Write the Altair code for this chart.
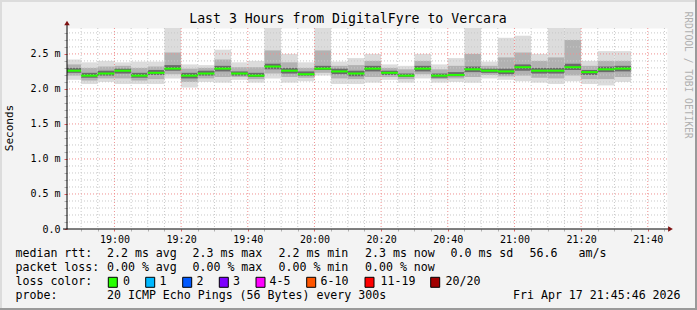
import altair as alt
import pandas as pd

# ---------------- data ----------------
starts = ["18:45", "18:50", "18:55", "19:00", "19:05", "19:10", "19:15", "19:20",
          "19:25", "19:30", "19:35", "19:40", "19:45", "19:50", "19:55", "20:00",
          "20:05", "20:10", "20:15", "20:20", "20:25", "20:30", "20:35", "20:40",
          "20:45", "20:50", "20:55", "21:00", "21:05", "21:10", "21:15", "21:20",
          "21:25", "21:30"]
median = [2.26, 2.19, 2.22, 2.26, 2.19, 2.23, 2.29, 2.19, 2.22, 2.29, 2.22, 2.19,
          2.32, 2.26, 2.21, 2.29, 2.25, 2.22, 2.29, 2.23, 2.19, 2.29, 2.19, 2.20,
          2.28, 2.26, 2.25, 2.31, 2.26, 2.26, 2.31, 2.24, 2.28, 2.29]
ping_max = [2.42, 2.38, 2.40, 2.38, 2.39, 2.39, 2.95, 2.35, 2.34, 2.56, 2.38, 2.40,
            2.95, 2.50, 2.38, 2.95, 2.39, 2.44, 2.50, 2.35, 2.33, 2.50, 2.35, 2.44,
            2.95, 2.39, 2.73, 2.76, 2.50, 2.95, 2.95, 2.40, 2.54, 2.54]
ping_min = [2.13, 2.07, 2.10, 2.07, 2.07, 2.07, 2.15, 2.02, 2.10, 2.09, 2.13, 2.09,
            2.15, 2.09, 2.11, 2.19, 2.07, 2.07, 2.09, 2.13, 2.09, 2.15, 2.09, 2.10,
            2.09, 2.15, 2.13, 2.11, 2.09, 2.07, 2.11, 2.07, 2.05, 2.10]
upper_mid = [2.35, 2.30, 2.32, 2.33, 2.30, 2.32, 2.52, 2.29, 2.30, 2.42, 2.31, 2.31,
             2.55, 2.38, 2.30, 2.55, 2.33, 2.34, 2.40, 2.30, 2.28, 2.40, 2.28, 2.33,
             2.50, 2.33, 2.45, 2.52, 2.40, 2.45, 2.70, 2.33, 2.40, 2.40]
lower_mid = [2.19, 2.12, 2.15, 2.15, 2.12, 2.14, 2.21, 2.10, 2.15, 2.17, 2.17, 2.14,
             2.22, 2.17, 2.16, 2.23, 2.15, 2.14, 2.17, 2.17, 2.14, 2.21, 2.14, 2.15,
             2.17, 2.20, 2.18, 2.19, 2.16, 2.15, 2.19, 2.14, 2.14, 2.17]
core_hi = [2.30, 2.23, 2.26, 2.29, 2.23, 2.27, 2.34, 2.23, 2.26, 2.33, 2.25, 2.23,
           2.36, 2.30, 2.25, 2.33, 2.29, 2.26, 2.33, 2.26, 2.22, 2.33, 2.22, 2.24,
           2.32, 2.29, 2.29, 2.35, 2.30, 2.30, 2.36, 2.27, 2.32, 2.33]
core_lo = [2.23, 2.16, 2.19, 2.22, 2.16, 2.20, 2.26, 2.15, 2.19, 2.25, 2.19, 2.17,
           2.28, 2.22, 2.19, 2.27, 2.21, 2.18, 2.25, 2.20, 2.17, 2.25, 2.16, 2.18,
           2.24, 2.23, 2.21, 2.26, 2.22, 2.22, 2.27, 2.20, 2.24, 2.25]

step_minutes = 5          # 300 s probe step
window_end = "21:45:46"
window_hours = 3
y_max = 2.87

title_text = "Last 3 Hours from DigitalFyre to Vercara"
y_title = "Seconds"
watermark = "RRDTOOL / TOBI OETIKER"
line1 = ["median rtt:", "2.2 ms avg", "2.3 ms max", "2.2 ms min", "2.3 ms now",
         "0.0 ms sd", "56.6", "am/s"]
line2 = ["packet loss:", "0.00 % avg", "0.00 % max", "0.00 % min", "0.00 % now"]
loss_title = "loss color:"
loss_labels = ["0", "1", "2", "3", "4-5", "6-10", "11-19", "20/20"]
loss_colors = ["#26ff00", "#00b8ff", "#0059ff", "#7e00ff", "#ff00ff", "#ff5500",
               "#ff0000", "#a10000"]
line4 = ["probe:", "20 ICMP Echo Pings (56 Bytes) every 300s", "Fri Apr 17 21:45:46 2026"]

# ---------------- layout (screen pixels) ----------------
OX, OY = 67, 28
W, H = 600, 201
MONO = "DejaVu Sans Mono"
line1_x = [15.5, 107, 192.5, 278.5, 365, 450.5, 529.5, 578.5]
line2_x = [15.5, 107, 192.5, 278.5, 365]
line4_x = [15.5, 107, 513]
loss_box_x = [108.3, 145.7, 182.7, 219.3, 256, 306.7, 365, 430.7]
loss_lab_x = [123, 159.5, 196.5, 233, 269.5, 320.5, 380.5, 445.5]
row_y = [254.3, 268.3, 282.3, 296.2]


def to_min(s):
    parts = [int(p) for p in s.split(":")]
    return parts[0] * 60 + parts[1] + (parts[2] / 60 if len(parts) > 2 else 0)


x_end = to_min(window_end)
x_start = x_end - window_hours * 60

df = pd.DataFrame({
    "t0": [to_min(s) for s in starts],
    "med": median, "hi": ping_max, "lo": ping_min,
    "hi2": upper_mid, "lo2": lower_mid, "chi": core_hi, "clo": core_lo,
})
df["t1"] = df["t0"] + step_minutes

MAJOR_RED = "#f09090"
MINOR_GRAY = "#c8c8c8"

x_ticks = list(range(int(x_start) + 5 - int(x_start) % 5, int(x_end) + 1, 5))
y_ticks = [round(i * 0.1, 1) for i in range(29)]

x_axis = alt.Axis(
    values=x_ticks,
    labelExpr="datum.value % 20 == 0 ? (floor(datum.value/60) + ':' + "
              "(datum.value % 60 < 10 ? '0' : '') + (datum.value % 60)) : ''",
    title=None, domain=False, grid=False,
    tickColor={"condition": {"test": "datum.value % 20 == 0", "value": "#e06060"},
               "value": "#b0b0b0"},
    tickSize=2, labelPadding=3, labelOverlap=False, labelFont=MONO, labelFontSize=10,
    labelColor="black",
)
y_axis = alt.Axis(
    values=y_ticks,
    labelExpr="round(datum.value*10) % 5 == 0 ? (datum.value == 0 ? '0.0\u00a0\u00a0' : "
              "format(datum.value, '.1f') + ' m') : ''",
    title=None, domain=False, grid=False,
    tickColor={"condition": {"test": "round(datum.value*10) % 5 == 0", "value": "#e06060"},
               "value": "#b0b0b0"},
    tickSize=3, labelPadding=4, labelOverlap=False, labelFont=MONO, labelFontSize=10,
    labelColor="black", labelBaseline="middle",
)

xs = alt.Scale(domain=[x_start, x_end], nice=False, zero=False)
ys = alt.Scale(domain=[0, y_max], nice=False, zero=True)

base = alt.Chart(df)


def band(lo, hi, color):
    return base.mark_rect(color=color, clip=True).encode(
        x=alt.X("t0:Q", scale=xs, axis=x_axis), x2="t1:Q",
        y=alt.Y(f"{lo}:Q", scale=ys, axis=y_axis), y2=f"{hi}:Q")


gx = pd.DataFrame({"v": x_ticks, "major": [v % 20 == 0 for v in x_ticks]})
gy = pd.DataFrame({"v": y_ticks[1:], "major": [round(v * 10) % 5 == 0 for v in y_ticks[1:]]})
grid_color = alt.Color("major:N", scale=alt.Scale(domain=[False, True],
                                                  range=[MINOR_GRAY, MAJOR_RED]), legend=None)

layers = [
    band("lo", "hi", "#dcdcdc"),
    band("lo2", "hi2", "#b2b2b2"),
    band("clo", "chi", "#6a6a6a"),
    alt.Chart(gx).mark_rule(strokeDash=[1, 2], strokeWidth=1).encode(
        x=alt.X("v:Q", scale=xs, axis=x_axis), color=grid_color),
    alt.Chart(gy).mark_rule(strokeDash=[1, 2], strokeWidth=1).encode(
        y=alt.Y("v:Q", scale=ys, axis=y_axis), color=grid_color),
    base.mark_rule(color="#26ff00", strokeWidth=2, clip=True).encode(
        x=alt.X("t0:Q", scale=xs, axis=x_axis), x2="t1:Q",
        y=alt.Y("med:Q", scale=ys, axis=y_axis)),
]


def one():
    return alt.Chart(pd.DataFrame({"t": [""]}))


def txt(s, sx, sy, size=11.6, align="left", angle=0, color="black"):
    return alt.Chart(pd.DataFrame({"t": [s]})).mark_text(
        font=MONO, fontSize=size, align=align, baseline="middle", angle=angle,
        color=color).encode(x=alt.value(sx - OX), y=alt.value(sy - OY), text="t:N")


def seg(x1, y1, x2, y2, color, width=1):
    return one().mark_rule(color=color, strokeWidth=width).encode(
        x=alt.value(x1 - OX), y=alt.value(y1 - OY),
        x2=alt.value(x2 - OX), y2=alt.value(y2 - OY))


# frame
layers += [
    seg(0, 1, 697, 1, "#dcdcdc", 2), seg(1, 0, 1, 310, "#dcdcdc", 2),
    seg(0, 309, 697, 309, "#9a9a9a", 2), seg(696, 0, 696, 310, "#9a9a9a", 2),
]
# axis lines and arrows
layers += [
    seg(OX, 24, OX, OY + H, "black"),
    seg(63, OY + H, 669, OY + H, "black"),
    one().mark_point(shape="triangle-up", filled=True, color="#7f1010", size=30, opacity=1).encode(
        x=alt.value(0), y=alt.value(23 - OY)),
    one().mark_point(shape="triangle-right", filled=True, color="#7f1010", size=30, opacity=1).encode(
        x=alt.value(670.5 - OX), y=alt.value(OY + H - OY)),
]
# texts
layers.append(txt(title_text, 348, 19, size=13.2, align="center"))
layers.append(txt(y_title, 10, 128, size=11, align="center", angle=270))
layers.append(txt(watermark, 688, 75, size=9.6, align="center", angle=90, color="#b0b0b0"))
for s, x in zip(line1, line1_x):
    layers.append(txt(s, x, row_y[0]))
for s, x in zip(line2, line2_x):
    layers.append(txt(s, x, row_y[1]))
layers.append(txt(loss_title, 15.5, row_y[2]))
for lab, col, bx, lx in zip(loss_labels, loss_colors, loss_box_x, loss_lab_x):
    layers.append(one().mark_rect(color=col, stroke="black", strokeWidth=1).encode(
        x=alt.value(bx - OX), x2=alt.value(bx + 9 - OX),
        y=alt.value(row_y[2] - 5 - OY), y2=alt.value(row_y[2] + 5 - OY)))
    layers.append(txt(lab, lx, row_y[2]))
for s, x in zip(line4, line4_x):
    layers.append(txt(s, x, row_y[3]))

chart = alt.layer(*layers).properties(
    width=W, height=H,
    background="#f3f3f3",
    padding={"left": OX, "top": OY, "right": 697 - OX - W, "bottom": 310 - OY - H},
    autosize=alt.AutoSizeParams(type="none"),
).configure_view(fill="white", stroke="transparent")

chart.save("out.html", embed_options={"renderer": "svg", "actions": False})
